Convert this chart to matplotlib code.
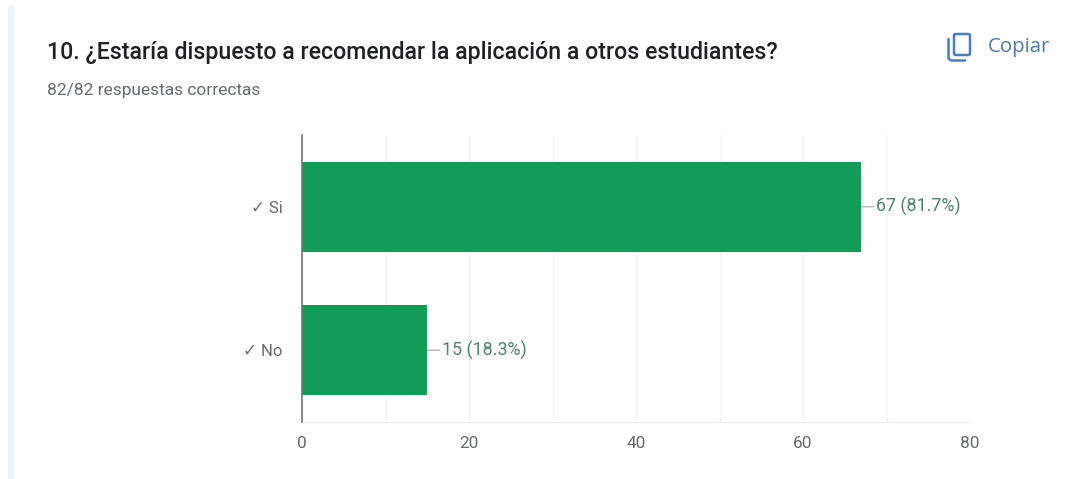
import matplotlib
matplotlib.use("Agg")
import matplotlib.pyplot as plt
from matplotlib.patches import Rectangle, FancyBboxPatch

W, H = 1075, 479

categories = ["✓ Si", "✓ No"]
counts = [67, 15]
value_labels = ["67 (81.7%)", "15 (18.3%)"]
major_ticks = [0, 20, 40, 60, 80]
grid_ticks = [10, 30, 50, 70]

title = "10. ¿Estaría dispuesto a recomendar la aplicación a otros estudiantes?"
subtitle = "82/82 respuestas correctas"
copy_label = "Copiar"

GREEN = "#129C58"
GRID = "#F1F1F1"
AXIS = "#757575"
LABEL = "#666A6E"
VALUE = "#4F8070"
BLUE = "#4A7FBF"

plt.rcParams["font.family"] = ["Roboto", "DejaVu Sans"]

fig = plt.figure(figsize=(W / 100, H / 100), dpi=100, facecolor="white")


def px_box(x0, y0, x1, y1):
    """Figure-fraction rectangle from pixel edges, y measured from the top."""
    return [x0 / W, 1 - y1 / H, (x1 - x0) / W, (y1 - y0) / H]


# Pale card edge at the left of the form response
fig.patches.append(Rectangle((8 / W, 0), 6 / W, 1 - 6 / H, transform=fig.transFigure,
                             facecolor="#E9F3F9", edgecolor="none"))

ax = fig.add_axes(px_box(302, 135, 970, 422))
ax.set_xlim(0, 80)
ax.set_ylim(1.5, -0.5)
ax.barh(range(len(counts)), counts, height=0.627, color=GREEN, zorder=3)

ax.set_xticks(major_ticks)
ax.set_xticklabels([str(t) for t in major_ticks], fontsize=12.4, color=LABEL)
ax.set_xticks(grid_ticks, minor=True)
ax.grid(True, axis="x", which="both", color=GRID, linewidth=1, zorder=0)
ax.tick_params(axis="x", which="both", length=0, pad=10)
ax.tick_params(axis="y", length=0, pad=14)
ax.set_yticks(range(len(categories)))
ax.set_yticklabels(categories, fontsize=12, color=LABEL,
                   family=["Roboto", "DejaVu Sans"])

for side in ("top", "right"):
    ax.spines[side].set_visible(False)
ax.spines["bottom"].set_color(GRID)
ax.spines["left"].set_color(AXIS)
ax.spines["left"].set_linewidth(1.2)
ax.spines["left"].set_zorder(4)

# Value labels joined to their bars by a short leader line
for i, (count, text) in enumerate(zip(counts, value_labels)):
    ax.annotate(text, xy=(count, i), xytext=(15, 0), textcoords="offset pixels",
                va="center", ha="left", fontsize=12.9, color=VALUE,
                arrowprops=dict(arrowstyle="-", color="#A9B8B2", linewidth=1,
                                shrinkA=0, shrinkB=0))

fig.text(47 / W, 1 - 52 / H, title, fontsize=16.65, fontweight="medium", color="#202124",
         va="center", ha="left")
fig.text(47 / W, 1 - 90 / H, subtitle, fontsize=12.5, color=LABEL, va="center", ha="left")
fig.text(988 / W, 1 - 47 / H, copy_label, fontsize=14.7, color="#4F78AE", va="center", ha="left",
         family="Open Sans")

# Copy icon: a rounded sheet with a second sheet's corner behind it
icon = fig.add_axes([0, 0, 1, 1], facecolor="none")
icon.set_xlim(0, W)
icon.set_ylim(H, 0)
icon.axis("off")
icon.add_patch(FancyBboxPatch((954, 34), 16, 21, boxstyle="round,pad=0,rounding_size=1.5",
                              fill=False, edgecolor=BLUE, linewidth=1.8))
icon.plot([948.5, 948.5, 951, 965], [39, 58.5, 60.5, 60.5], color=BLUE, linewidth=1.8,
          solid_capstyle="round")

fig.savefig("out.png", dpi=100, facecolor="white")
